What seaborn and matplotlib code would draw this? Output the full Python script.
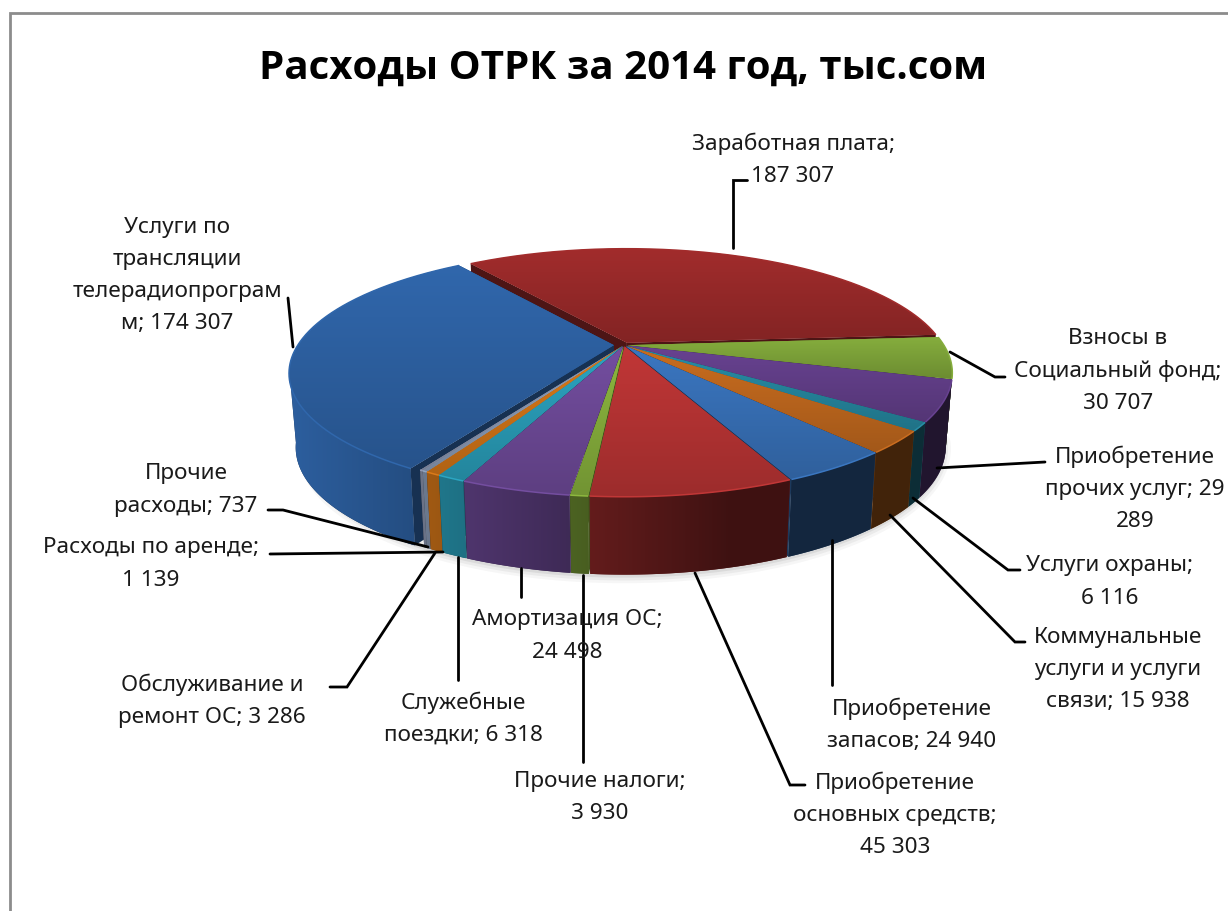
import numpy as np
import matplotlib
matplotlib.use("Agg")
import matplotlib.pyplot as plt
from matplotlib.transforms import Transform
from matplotlib.patches import Polygon
import seaborn as sns

# ---------- data ----------
labels = [
    "Услуги по\nтрансляции\nтелерадиопрограм\nм; 174 307",
    "Заработная плата;\n187 307",
    "Взносы в\nСоциальный фонд;\n30 707",
    "Приобретение\nпрочих услуг; 29\n289",
    "Услуги охраны;\n6 116",
    "Коммунальные\nуслуги и услуги\nсвязи; 15 938",
    "Приобретение\nзапасов; 24 940",
    "Приобретение\nосновных средств;\n45 303",
    "Прочие налоги;\n3 930",
    "Амортизация ОС;\n24 498",
    "Служебные\nпоездки; 6 318",
    "Обслуживание и\nремонт ОС; 3 286",
    "Расходы по аренде;\n1 139",
    "Прочие\nрасходы; 737",
]
values = [174307, 187307, 30707, 29289, 6116, 15938, 24940, 45303, 3930, 24498, 6318, 3286, 1139, 737]
title = "Расходы ОТРК за 2014 год, тыс.сом"

# ---------- style ----------
colors = ["#2E62A4", "#9A2A2A", "#7FA53A", "#633F8A", "#26879F", "#C0681E", "#3871B8",
          "#B83434", "#86AE3C", "#6E4A98", "#2A9DB8", "#D07418", "#8A9CB8", "#8A94AE"]
explode = [0.032, 0.022, 0.012, 0.012, 0.012, 0.012, 0.012, 0.012, 0.012, 0.012, 0.012, 0.012, 0.012, 0.012]
label_xy = [(177, 227), (793, 144), (1118, 339), (1135, 457), (1110, 566), (1118, 637), (912, 709),
            (895, 783), (600, 781), (567, 620), (463, 703), (212, 685), (151, 548), (186, 474)]
leaders = [
    [(293, 347), (288, 298)],
    [(733, 248), (733, 180), (747, 180)],
    [(950, 352), (995, 377), (1005, 377)],
    [(937, 468), (1045, 462)],
    [(913, 498), (1008, 570), (1020, 570)],
    [(890, 515), (1015, 642), (1025, 642)],
    [(832, 540), (832, 685)],
    [(695, 573), (790, 785), (805, 785)],
    [(583, 575), (583, 762)],
    [(521, 568), (521, 597)],
    [(458, 557), (458, 680)],
    [(435, 553), (347, 687), (330, 687)],
    [(443, 552), (270, 554)],
    [(428, 547), (283, 510), (268, 510)],
]
CX, CY, RX, RY, K, DEPTH = 624.0, 345.0, 316.0, 116.0, 0.224, 73.0
START = 239.1

sns.set_theme(style="white")
plt.rcParams["font.family"] = ["Noto Sans", "DejaVu Sans"]
palette = sns.color_palette(colors)


def project(x, y, z=0.0):
    x, y = np.asarray(x, float), np.asarray(y, float)
    v = -y
    w = 1 - K * v
    shrink = 1 - 0.02 * z
    return CX + RX * x / w * shrink, CY + RY * v / w + DEPTH * z / w ** 0.25


class Persp(Transform):
    input_dims = output_dims = 2
    is_separable = False
    has_inverse = False

    def transform_non_affine(self, values):
        a = np.asarray(values, float)
        X, Y = project(a[:, 0], a[:, 1])
        return np.column_stack([X, Y])


def shade(color, f):
    return tuple(np.clip(np.array(color) * f, 0, 1))


fig = plt.figure(figsize=(12.28, 9.11), dpi=100)
ax = fig.add_axes([0, 0, 1, 1])
wedges, _ = ax.pie(values, colors=palette, explode=explode, startangle=START,
                   counterclock=False, radius=1.0, wedgeprops=dict(linewidth=0))
ax.set_aspect("auto")
ax.set_xlim(0, 1228)
ax.set_ylim(911, 0)
ax.axis("off")
persp = Persp() + ax.transData

# soft shadow under the front rim
th = np.radians(np.linspace(190, 350, 200))
sx, sy = project(1.005 * np.cos(th), 1.005 * np.sin(th), 1.03)
for lw, a in [(11, 0.05), (7, 0.07), (3, 0.10)]:
    ax.plot(sx, sy, color="#555555", lw=lw, alpha=a, zorder=1, solid_capstyle="round")

order = sorted(range(len(wedges)),
               key=lambda i: -np.sin(np.radians((wedges[i].theta1 + wedges[i].theta2) / 2)))


def arc(wd):
    cx0, cy0 = wd.center
    t = np.radians(np.linspace(wd.theta1, wd.theta2, max(int(wd.theta2 - wd.theta1) * 2, 6)))
    return cx0, cy0, t, cx0 + np.cos(t), cy0 + np.sin(t)


z = 2
# pass 1: radial faces, seen only through the gaps
for i in order:
    wd, base = wedges[i], palette[i]
    cx0, cy0, t, ox, oy = arc(wd)
    for j in (0, -1):
        pts = [project(cx0, cy0), project(ox[j], oy[j]), project(ox[j], oy[j], 1), project(cx0, cy0, 1)]
        ax.add_patch(Polygon(np.array(pts), closed=True, fc=shade(base, 0.50), ec="none", zorder=z))
    z += 1

# pass 2: curved outer walls, darker toward the right (visible part of the arc only)
for i in order:
    wd, base = wedges[i], palette[i]
    cx0, cy0, t, ox, oy = arc(wd)
    front = (oy - cy0) <= -0.19
    if front.sum() < 2:
        continue
    tx, ty = project(ox[front], oy[front])
    bx, by = project(ox[front], oy[front], 1)
    poly = Polygon(np.column_stack([np.r_[tx, bx[::-1]], np.r_[ty, by[::-1]]]), closed=True,
                   fc=shade(base, 0.5), ec="none", zorder=z)
    ax.add_patch(poly)
    x0, x1 = min(tx.min(), bx.min()), max(tx.max(), bx.max())
    xs = np.linspace(x0, x1, 128)
    f = np.maximum(0.49 - 0.45 * (xs - CX) / RX, 0.34)
    grad = np.clip(f[None, :, None] * np.array(base)[None, None, :], 0, 1)
    im = ax.imshow(grad, extent=(x0, x1, max(ty.max(), by.max()), min(ty.min(), by.min())),
                   aspect="auto", zorder=z + 1, interpolation="bilinear")
    im.set_clip_path(poly)
    z += 2

# pass 3: top faces, the pie wedges, shaded by images clipped to them
for i in order:
    wd, base = wedges[i], palette[i]
    cx0, cy0, t, ox, oy = arc(wd)
    wd.set_transform(persp)
    wd.set_zorder(z)
    bx, by = project(np.r_[cx0, ox], np.r_[cy0, oy])
    grad = np.linspace(1.05, 0.85, 64)[:, None, None] * np.array(base)[None, None, :]
    im = ax.imshow(np.clip(grad, 0, 1), extent=(bx.min(), bx.max(), by.max(), by.min()),
                   aspect="auto", zorder=z + 1, interpolation="bilinear")
    im.set_clip_path(wd)
    rx, ry = project(ox, oy)
    ax.plot(rx, ry, color=shade(base, 1.05), lw=1.1, zorder=z + 2, solid_capstyle="butt")
    z += 3

ax.set_xlim(0, 1228)
ax.set_ylim(911, 0)

# leader lines
for pts in leaders:
    p = np.array(pts)
    ax.plot(p[:, 0], p[:, 1], color="black", lw=2.0, zorder=z, solid_joinstyle="miter")
z += 1

# labels
for lab, (lx, ly) in zip(labels, label_xy):
    for n, line in enumerate(lab.split("\n")):
        ax.text(lx, ly + n * 32.3, line, ha="center", va="center", fontsize=16.2,
                color="#1a1a1a", zorder=z)

ax.text(623, 68, title, ha="center", va="center", fontsize=29, fontweight="bold",
        family=["Open Sans", "Noto Sans", "DejaVu Sans"], color="black", zorder=z)

# chart frame
ax.plot([10, 10, 1228], [911, 13, 13], color="#8c8c8c", lw=2.0, zorder=z, solid_joinstyle="miter")

fig.savefig("out.png", dpi=100, facecolor="white")
